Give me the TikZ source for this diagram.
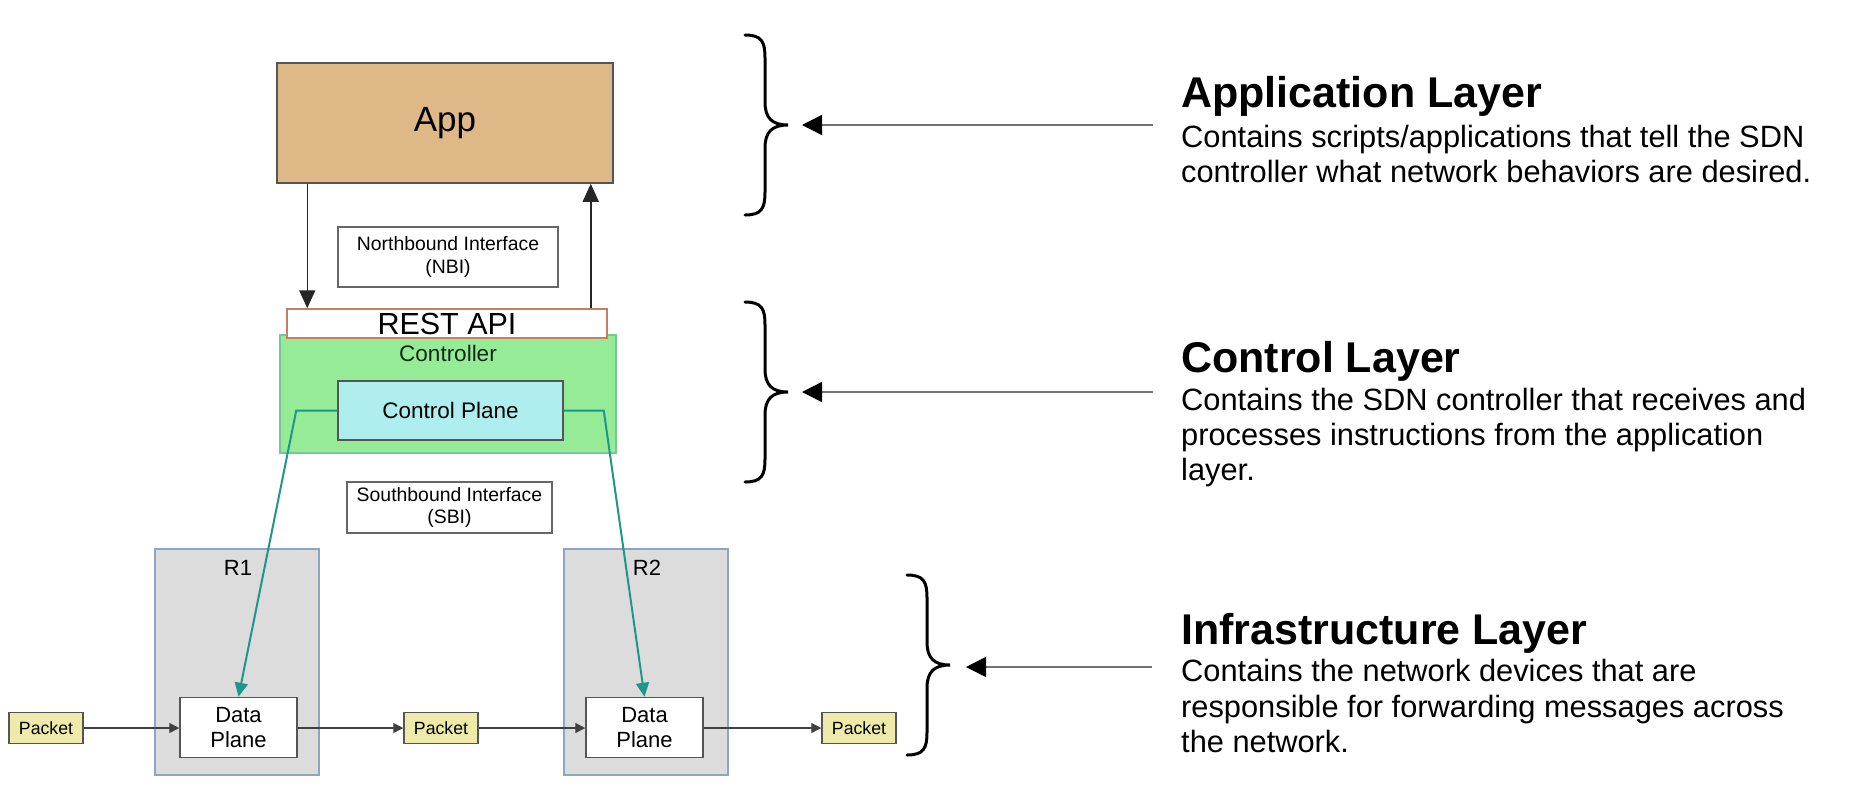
\documentclass[tikz,border=0pt]{standalone}
\usepackage{fontspec}
\setmainfont{Liberation Sans}
\usetikzlibrary{arrows.meta}

\definecolor{appfill}{RGB}{222,184,135}
\definecolor{restborder}{RGB}{200,125,95}
\definecolor{ctrlfill}{RGB}{150,236,150}
\definecolor{ctrlborder}{RGB}{115,200,150}
\definecolor{cpfill}{RGB}{175,238,238}
\definecolor{sbteal}{RGB}{30,150,138}
\definecolor{rfill}{RGB}{220,220,220}
\definecolor{rborder}{RGB}{140,165,195}
\definecolor{pktfill}{RGB}{238,234,170}
\definecolor{edge}{RGB}{85,85,85}
\definecolor{ctrltext}{RGB}{20,40,20}

\newcommand\setfs[2]{\fontsize{#1}{#2}\selectfont}

\tikzset{
  box/.style={draw=edge, line width=1.5pt, inner sep=0pt, rectangle},
  appbox/.style={box, fill=appfill, minimum width=336pt, minimum height=120pt, font=\setfs{35}{40}},
  restbox/.style={box, draw=restborder, fill=white, minimum width=320pt, minimum height=29pt, font=\setfs{30.5}{34}},
  ctrlbox/.style={box, draw=ctrlborder, fill=ctrlfill, minimum width=336pt, minimum height=118pt},
  cpbox/.style={box, fill=cpfill, minimum width=225pt, minimum height=59pt, font=\setfs{22.5}{26}},
  ifbox/.style={box, draw=edge!90, line width=1.2pt, fill=white, align=center, font=\setfs{19.4}{22.5}},
  routerbox/.style={box, draw=rborder, fill=rfill, minimum width=164pt, minimum height=226pt},
  dpbox/.style={box, fill=white, minimum width=117pt, minimum height=60pt, align=center, font=\setfs{22}{25}},
  pktbox/.style={box, fill=pktfill, minimum width=74pt, minimum height=31pt, font=\setfs{17.7}{20}},
  plain/.style={inner sep=0pt},
  blkarrow/.style={draw=black!85, line width=1.5pt, -{Triangle[length=18pt,width=16pt]}},
  pktarrow/.style={draw=black!75, line width=1.3pt, -{Triangle[length=10pt,width=10pt]}},
  tealarrow/.style={draw=sbteal, line width=2pt, -{Triangle[length=14pt,width=13pt]}},
  layarrow/.style={draw=black!55, line width=1.5pt, -{Triangle[length=20pt,width=20pt,color=black]}},
  heading/.style={plain, anchor=base west, font=\setfs{43}{48}\bfseries},
  bodyline/.style={plain, anchor=base west, font=\setfs{30.8}{36}},
  curlybrace/.pic={
    \draw[line width=3pt, line cap=round]
      (-43,-90) .. controls (-26,-90) and (-23,-83) .. (-23,-67)
      -- (-23,-23) .. controls (-23,-7) and (-16,0) .. (0,0)
      .. controls (-16,0) and (-23,7) .. (-23,23)
      -- (-23,67) .. controls (-23,83) and (-26,90) .. (-43,90);
  }
}

\begin{document}
\begin{tikzpicture}[x=1pt,y=-1pt]
  \useasboundingbox[fill=white] (0,0) rectangle (1853,807);

  % application and controller stack
  \node[appbox] (app) at (445,123) {App};
  \node[ifbox, minimum width=220pt, minimum height=60pt] (nbi) at (448,257) {Northbound Interface\\(NBI)};
  \node[ctrlbox] (ctrl) at (448,394) {};
  \node[plain, font=\setfs{22.5}{26}, text=ctrltext] (ctrltitle) at (448,353) {Controller};
  \node[restbox] (rest) at (447,323.5) {REST API};
  \node[cpbox] (cp) at (450.5,410.5) {Control Plane};
  \node[ifbox, minimum width=205pt, minimum height=51pt] (sbi) at (449.5,507.5) {Southbound Interface\\(SBI)};

  % NBI request / response arrows
  \draw[blkarrow] ([xshift=31pt]app.south west) -- ([xshift=31pt]app.south west |- rest.north);
  \draw[blkarrow] ([xshift=-23pt]app.south east |- rest.north) -- ([xshift=-23pt]app.south east);

  % routers
  \node[routerbox] (r1) at (237,662) {};
  \node[plain, font=\setfs{22}{26}] (r1name) at (238,568) {R1};
  \node[routerbox] (r2) at (646,662) {};
  \node[plain, font=\setfs{22}{26}] (r2name) at (647,568) {R2};
  \node[dpbox] (dp1) at (238.5,727.5) {Data\\Plane};
  \node[dpbox] (dp2) at (644.5,727.5) {Data\\Plane};

  % packets along the forwarding path
  \node[pktbox] (pk1) at (46,728) {Packet};
  \node[pktbox] (pk2) at (441,728) {Packet};
  \node[pktbox] (pk3) at (859,728) {Packet};
  \draw[pktarrow] (pk1.east) -- (dp1.west |- pk1.east);
  \draw[pktarrow] (dp1.east |- pk2.west) -- (pk2.west);
  \draw[pktarrow] (pk2.east) -- (dp2.west |- pk2.east);
  \draw[pktarrow] (dp2.east |- pk3.west) -- (pk3.west);

  % southbound control links
  \draw[tealarrow] (cp.west) -- ++(-41,0) -- (dp1.north);
  \draw[tealarrow] (cp.east) -- ++(40,0) -- (dp2.north);

  % layer braces
  \pic at (788,125) {curlybrace};
  \pic at (788,392) {curlybrace};
  \pic at (950,665) {curlybrace};

  \coordinate (tipA) at (802,125);
  \coordinate (srcA) at (1153,125);
  \coordinate (tipC) at (802,392);
  \coordinate (srcC) at (1153,392);
  \coordinate (tipI) at (966,667);
  \coordinate (srcI) at (1152,667);
  \draw[layarrow] (srcA) -- (tipA);
  \draw[layarrow] (srcC) -- (tipC);
  \draw[layarrow] (srcI) -- (tipI);

  % layer descriptions
  \node[heading] (appH) at (1181,107) {Application Layer};
  \node[bodyline] (appL1) at (1181,147) {Contains scripts/applications that tell the SDN};
  \node[bodyline] (appL2) at (1181,182.5) {controller what network behaviors are desired.};

  \node[heading] (ctlH) at (1181,372) {Control Layer};
  \node[bodyline] (ctlL1) at (1181,410) {Contains the SDN controller that receives and};
  \node[bodyline] (ctlL2) at (1181,445) {processes instructions from the application};
  \node[bodyline] (ctlL3) at (1181,480) {layer.};

  \node[heading] (infH) at (1181,644) {Infrastructure Layer};
  \node[bodyline] (infL1) at (1181,681) {Contains the network devices that are};
  \node[bodyline] (infL2) at (1181,717) {responsible for forwarding messages across};
  \node[bodyline] (infL3) at (1181,752) {the network.};
\end{tikzpicture}
\end{document}
